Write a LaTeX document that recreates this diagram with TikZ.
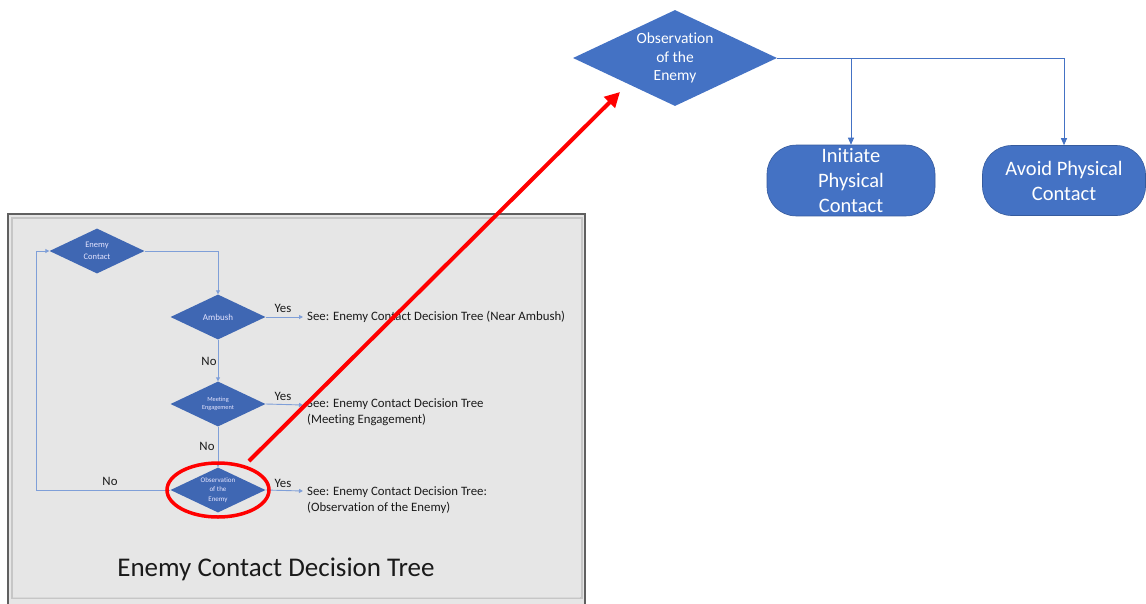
\documentclass[tikz,border=0pt]{standalone}
\usepackage{fontspec}
\setmainfont[Ligatures=NoCommon]{Carlito}
\usetikzlibrary{shapes.geometric,arrows.meta}
\definecolor{oblue}{HTML}{4472C4}
\definecolor{iblue}{HTML}{3F67B3}
\definecolor{ilink}{HTML}{7F9FD8}
\definecolor{panelgray}{HTML}{E6E6E6}
\definecolor{txt}{HTML}{1A1A1A}
\tikzset{
  bigdia/.style={diamond, aspect=2, fill=oblue, draw=none, inner sep=0pt,
    minimum width=204pt, minimum height=96pt, text=white, align=center,
    font=\fontsize{15.5}{18.5}\selectfont},
  smalldia/.style={diamond, aspect=2, fill=iblue, draw=none, inner sep=0pt,
    minimum width=95pt, minimum height=45pt, text=white!90!blue, align=center},
  endbox/.style={rectangle, rounded corners=29pt, fill=oblue, draw=oblue!80!black, line width=0.6pt,
    minimum height=70pt, text=white, align=center, font=\fontsize{20.5}{25}\selectfont},
  olink/.style={draw=oblue, line width=0.9pt},
  otip/.style={-{Triangle[width=6pt,length=7pt]}},
  ilink/.style={draw=ilink, line width=0.9pt, -{Triangle[width=4pt,length=4pt]}},
  lbl/.style={text=txt, font=\fontsize{12.8}{16}\selectfont, inner sep=0pt},
  see/.style={text=txt, font=\fontsize{12.8}{16}\selectfont, inner sep=0pt, anchor=west, align=left},
}
\begin{document}
\begin{tikzpicture}[x=1pt,y=-1pt]
\useasboundingbox (0,0) rectangle (1146,603);
% inset panel
\draw[draw=gray!75!black, line width=1.6pt, fill=panelgray] (8,214) rectangle (585,640);
\draw[draw=gray!45, line width=2pt] (11.5,217.5) rectangle (581.5,598);
\draw[draw=gray!30, line width=1pt] (13,597) -- (580,597);

% inset diagram
\node[smalldia, font=\fontsize{8.5}{12}\selectfont] (ec) at (97,251) {Enemy\\Contact};
\node[smalldia, font=\fontsize{9}{10}\selectfont] (amb) at (218,317) {Ambush};
\node[smalldia, font=\fontsize{6.3}{8.5}\selectfont] (me) at (218,404) {Meeting\\Engagement};
\node[smalldia, font=\fontsize{7}{9.5}\selectfont] (obs) at (218,490) {Observation\\of the\\Enemy};

\draw[ilink] (ec.east) -| (amb.north);
\draw[ilink] (amb.south) -- (me.north);
\draw[ilink] (me.south) -- (obs.north);
\draw[ilink] (obs.west) -- ++(-134,0) |- (ec.west);

\coordinate (ya) at (303,317);
\coordinate (ym) at (303,405);
\coordinate (yo) at (303,491);
\draw[ilink] (amb.east) -- (ya);
\draw[ilink] (me.east) -- (ym);
\draw[ilink] (obs.east) -- (yo);

\node[lbl] (l1) at (283,308) {Yes};
\node[lbl] (l2) at (283,396) {Yes};
\node[lbl] (l3) at (283,483) {Yes};
\node[lbl] (l4) at (209,361) {No};
\node[lbl] (l5) at (207,446) {No};
\node[lbl] (l6) at (110,481) {No};

\node[see] (s1) at (307,317) {See: Enemy Contact Decision Tree (Near Ambush)};
\node[see] (s2) at (307,412) {See: Enemy Contact Decision Tree\\(Meeting Engagement)};
\node[see] (s3) at (307,500) {See: Enemy Contact Decision Tree:\\(Observation of the Enemy)};

\node[text=txt, font=\fontsize{27}{30}\selectfont, inner sep=0pt] (title) at (276,569) {Enemy Contact Decision Tree};

% highlight
\node[ellipse, draw=red, line width=3.5pt, minimum width=102pt, minimum height=54pt] (hl) at (218,490) {};

% detailed diagram
\node[bigdia] (top) at (675,58) {Observation\\of the\\Enemy};
\node[endbox, minimum width=168pt] (b1) at (851,180.5) {Initiate\\Physical\\Contact};
\node[endbox, minimum width=163pt] (b2) at (1064,180.5) {Avoid Physical\\Contact};

\draw[olink, otip] (top.east) -- (top.east -| b2.north) -- (b2.north);
\draw[olink, otip] (top.east -| b1.north) -- (b1.north);

\coordinate (rs) at (249,461);
\coordinate (re) at (620,92);
\draw[red, line width=4pt, -{Triangle[width=15pt,length=15pt]}] (rs) -- (re);
\end{tikzpicture}
\end{document}
